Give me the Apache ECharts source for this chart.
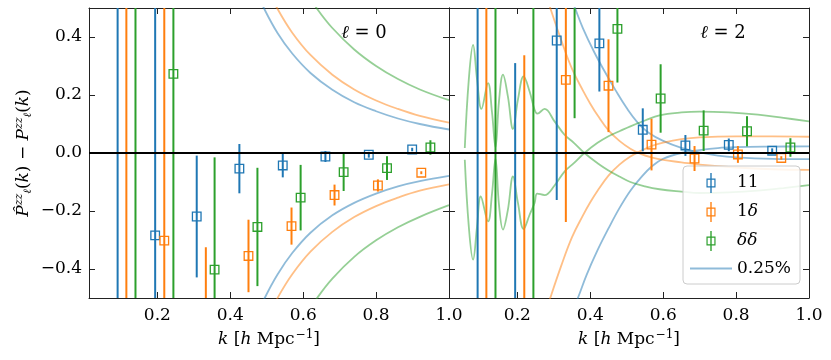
<!DOCTYPE html>
<html>
<head>
<meta charset="utf-8">
<script src="https://cdn.jsdelivr.net/npm/echarts@6/dist/echarts.min.js"></script>
<style>
  html, body { margin: 0; padding: 0; background: #fff; }
  #main { width: 831px; height: 360px; }
</style>
</head>
<body>
<div id="main"></div>
<script>
// bin centres (the three samples are shifted a little in k)
var kBlue   = [0.091, 0.194, 0.308, 0.425, 0.544, 0.661, 0.780, 0.899];
var kOrange = [0.115, 0.219, 0.333, 0.450, 0.568, 0.686, 0.805, 0.924];
var kGreen  = [0.140, 0.244, 0.357, 0.4745, 0.593, 0.711, 0.830, 0.949];

// l = 0 residuals and errors
var l0BlueVal   = [0.60, -0.284, -0.219, -0.054, -0.043, -0.012, -0.006, 0.012];
var l0BlueErr   = [1.60, 0.85, 0.21, 0.085, 0.041, 0.019, 0.010, 0.006];
var l0OrangeVal = [-0.80, -0.302, -0.55, -0.355, -0.252, -0.145, -0.112, -0.068];
var l0OrangeErr = [1.90, 0.90, 0.225, 0.125, 0.064, 0.036, 0.021, 0.005];
var l0GreenVal  = [1.10, 0.273, -0.402, -0.255, -0.154, -0.066, -0.052, 0.019];
var l0GreenErr  = [2.50, 1.00, 0.387, 0.204, 0.113, 0.065, 0.041, 0.025];

// l = 2 residuals and errors
var l2BlueVal   = [0.90, -0.60, 0.388, 0.378, 0.080, 0.026, 0.028, 0.008];
var l2BlueErr   = [2.20, 0.91, 0.55, 0.166, 0.074, 0.036, 0.022, 0.008];
var l2OrangeVal = [-0.90, -0.55, 0.252, 0.232, 0.029, -0.019, -0.005, -0.017];
var l2OrangeErr = [2.00, 0.887, 0.49, 0.16, 0.089, 0.043, 0.029, 0.006];
var l2GreenVal  = [1.00, -0.90, 0.70, 0.428, 0.188, 0.077, 0.075, 0.019];
var l2GreenErr  = [2.40, 1.60, 0.58, 0.185, 0.118, 0.070, 0.052, 0.032];

// 0.25% envelopes, l = 0
var l0BlueUp   = [[0.47,0.563],[0.4945,0.494],[0.53,0.413],[0.57,0.343],[0.62,0.276],[0.68,0.218],[0.74,0.175],[0.80,0.144],[0.86,0.119],[0.92,0.100],[1.0,0.081]];
var l0BlueDn   = [[0.47,-0.57],[0.4945,-0.50],[0.53,-0.418],[0.57,-0.345],[0.62,-0.275],[0.68,-0.215],[0.74,-0.172],[0.80,-0.140],[0.86,-0.115],[0.92,-0.097],[1.0,-0.079]];
var l0OrangeUp = [[0.50,0.572],[0.531,0.494],[0.57,0.415],[0.62,0.338],[0.68,0.270],[0.74,0.219],[0.80,0.181],[0.86,0.152],[0.92,0.128],[1.0,0.105]];
var l0OrangeDn = [[0.50,-0.575],[0.531,-0.497],[0.57,-0.418],[0.62,-0.340],[0.68,-0.272],[0.74,-0.221],[0.80,-0.183],[0.86,-0.154],[0.92,-0.130],[1.0,-0.108]];
var l0GreenUp  = [[0.60,0.571],[0.64,0.494],[0.68,0.431],[0.74,0.357],[0.80,0.300],[0.86,0.255],[0.92,0.219],[1.0,0.182]];
var l0GreenDn  = [[0.60,-0.575],[0.64,-0.497],[0.68,-0.433],[0.74,-0.358],[0.80,-0.301],[0.86,-0.256],[0.92,-0.220],[1.0,-0.180]];

// 0.25% envelopes, l = 2
var l2BlueUp   = [[0.34,0.56],[0.359,0.497],[0.38,0.43],[0.41,0.35],[0.44,0.28],[0.47,0.215],[0.50,0.155],[0.53,0.105],[0.56,0.07],[0.60,0.042],[0.65,0.018],[0.70,0.002],[0.75,-0.009],[0.80,-0.015],[0.90,-0.020],[1.0,-0.021]];
var l2BlueDn   = [[0.345,-0.56],[0.366,-0.50],[0.39,-0.42],[0.42,-0.335],[0.45,-0.26],[0.48,-0.19],[0.51,-0.13],[0.54,-0.083],[0.57,-0.045],[0.60,-0.020],[0.65,0.0],[0.70,0.010],[0.75,0.017],[0.80,0.020],[0.90,0.022],[1.0,0.023]];
var l2OrangeUp = [[0.27,0.58],[0.291,0.497],[0.32,0.39],[0.35,0.29],[0.38,0.215],[0.40,0.17],[0.42,0.13],[0.45,0.078],[0.48,0.042],[0.51,0.015],[0.54,-0.004],[0.57,-0.016],[0.60,-0.024],[0.65,-0.032],[0.70,-0.040],[0.80,-0.050],[0.90,-0.056],[1.0,-0.058]];
var l2OrangeDn = [[0.27,-0.58],[0.291,-0.497],[0.32,-0.39],[0.35,-0.29],[0.38,-0.215],[0.40,-0.17],[0.42,-0.13],[0.45,-0.078],[0.48,-0.040],[0.51,-0.012],[0.54,0.008],[0.57,0.025],[0.60,0.036],[0.65,0.048],[0.70,0.054],[0.80,0.057],[0.90,0.057],[1.0,0.056]];
var l2GreenUp  = [[0.0558,0.017],[0.0668,0.253],[0.0785,0.373],[0.0895,0.253],[0.1015,0.152],[0.1196,0.241],[0.1305,0.140],[0.140,0.020],[0.1497,0.180],[0.1606,0.270],[0.174,0.195],[0.188,0.083],[0.2016,0.184],[0.2172,0.264],[0.2336,0.212],[0.2473,0.149],[0.2547,0.1355],[0.2747,0.152],[0.302,0.109],[0.3294,0.063],[0.355,0.035],[0.384,0.0],[0.42,-0.035],[0.45,-0.060],[0.48,-0.081],[0.51,-0.100],[0.55,-0.115],[0.59,-0.125],[0.65,-0.133],[0.70,-0.138],[0.78,-0.136],[0.86,-0.130],[0.93,-0.121],[1.0,-0.111]];
var l2GreenDn  = [[0.0558,-0.023],[0.0668,-0.253],[0.0785,-0.368],[0.0895,-0.253],[0.0995,-0.150],[0.1196,-0.236],[0.1305,-0.140],[0.140,-0.020],[0.1497,-0.180],[0.1606,-0.264],[0.174,-0.196],[0.188,-0.081],[0.2016,-0.172],[0.2172,-0.262],[0.2336,-0.213],[0.2473,-0.172],[0.2547,-0.140],[0.2747,-0.145],[0.302,-0.112],[0.3294,-0.064],[0.355,-0.035],[0.384,0.0],[0.42,0.035],[0.45,0.058],[0.48,0.075],[0.51,0.092],[0.55,0.112],[0.59,0.130],[0.65,0.140],[0.70,0.143],[0.78,0.140],[0.86,0.132],[0.93,0.121],[1.0,0.109]];

// ticks
var xTicks = [0.2, 0.4, 0.6, 0.8, 1.0];
var yTicks = [-0.4, -0.2, 0.0, 0.2, 0.4];

var FONT = 'DejaVu Serif';
var BLUE = '#1f77b4', ORANGE = '#ff7f0e', GREEN = '#2ca02c';
var BLUE_A = 'rgba(31,119,180,0.5)', ORANGE_A = 'rgba(255,127,14,0.5)', GREEN_A = 'rgba(44,160,44,0.5)';

// legend icons: hollow square with a vertical bar through it, and a plain line
var ebIcon = 'path://M0 6h10v1.3H0z M0 14.7h10V16H0z M0 6h1.3v10H0z M8.7 6H10v10H8.7z M4.25 0h1.5v22h-1.5z';
var lineIcon = 'path://M0 0h42v1.8H0z';

function fmt(v) {
  return (v < 0 ? '\u2212' : '') + Math.abs(v).toFixed(1);
}

function ebRender(params, api) {
  var k = api.value(0), v = api.value(1), e = api.value(2);
  var cs = params.coordSys;
  var c = api.coord([k, v]);
  var top = api.coord([k, v + e]);
  var bot = api.coord([k, v - e]);
  var y0 = Math.max(cs.y, top[1]);
  var y1 = Math.min(cs.y + cs.height, bot[1]);
  var color = api.visual('color');
  var kids = [];
  if (y1 > y0) {
    kids.push({type: 'line', shape: {x1: c[0], y1: y0, x2: c[0], y2: y1},
      style: {stroke: color, lineWidth: 2}});
  }
  if (c[1] > cs.y && c[1] < cs.y + cs.height) {
    kids.push({type: 'rect', shape: {x: c[0] - 4.3, y: c[1] - 4.3, width: 8.6, height: 8.6},
      style: {fill: 'none', stroke: color, lineWidth: 1.3}});
  }
  return {type: 'group', children: kids};
}

function rows(ks, vals, errs) {
  return ks.map(function (k, i) { return [k, vals[i], errs[i]]; });
}

function ebSeries(name, color, ks, vals, errs, gi) {
  return {
    name: name, type: 'custom', renderItem: ebRender,
    xAxisIndex: gi * 2, yAxisIndex: gi * 2,
    itemStyle: {color: color}, z: 4, clip: true,
    data: rows(ks, vals, errs)
  };
}

function curve(color, data, gi, extra) {
  var s = {
    name: '0.25%', type: 'line', smooth: 0.4, symbol: 'none', clip: true,
    xAxisIndex: gi * 2, yAxisIndex: gi * 2, z: 2,
    lineStyle: {color: color, width: 1.8}, itemStyle: {color: color},
    data: data
  };
  if (extra) s.markLine = {
    silent: true, symbol: 'none', label: {show: false},
    lineStyle: {color: '#000', width: 2, type: 'solid'},
    data: [{yAxis: 0}]
  };
  return s;
}

var axisLineStyle = {show: true, onZero: false, lineStyle: {color: '#222', width: 1}};
var tickStyle = {show: true, inside: true, length: 6, lineStyle: {color: '#222', width: 1}};

function xAx(gi, pos) {
  return {
    type: 'value', gridIndex: gi, position: pos, min: 0.0125, max: 1.0,
    splitLine: {show: false}, axisLine: axisLineStyle,
    axisTick: Object.assign({customValues: xTicks}, tickStyle),
    axisLabel: {show: pos === 'bottom', customValues: xTicks, formatter: fmt, margin: 9,
      fontFamily: FONT, fontSize: 17, color: '#000'},
    name: pos === 'bottom' ? '{i|k} [{i|h} Mpc{sup|\u22121}]' : '',
    nameLocation: 'middle', nameGap: 31,
    nameTextStyle: {fontFamily: FONT, fontSize: 17, color: '#000',
      rich: {
        i: {fontFamily: FONT, fontSize: 17, fontStyle: 'italic'},
        sup: {fontFamily: FONT, fontSize: 12, padding: [0, 0, 9, 1]}
      }}
  };
}

function yAx(gi, pos, withLabels) {
  var ax = {
    type: 'value', gridIndex: gi, position: pos, min: -0.5, max: 0.5,
    splitLine: {show: false}, axisLine: axisLineStyle,
    axisTick: Object.assign({customValues: yTicks}, tickStyle),
    axisLabel: {show: withLabels, customValues: yTicks, formatter: fmt, margin: 7,
      fontFamily: FONT, fontSize: 17, color: '#000'}
  };
  if (withLabels) {
    ax.name = '{i|P\u0302}{sup|zz}{sub|\u2113}{n|(}{i|k}{n|) \u2212 }{i|P}{sup|zz}{sub|\u2113}{n|(}{i|k}{n|)}';
    ax.nameLocation = 'middle';
    ax.nameRotate = 90;
    ax.nameGap = 55;
    ax.nameTextStyle = {fontFamily: FONT, fontSize: 17, color: '#000',
      rich: {
        n: {fontFamily: FONT, fontSize: 17},
        i: {fontFamily: FONT, fontSize: 17, fontStyle: 'italic'},
        sup: {fontFamily: FONT, fontSize: 11, fontStyle: 'italic', padding: [0, 0, 9, 0]},
        sub: {fontFamily: FONT, fontSize: 11, fontStyle: 'italic', padding: [8, 0, 0, 0]}
      }};
  }
  return ax;
}

var chart = echarts.init(document.getElementById('main'), null, {renderer: 'canvas'});

var option = {
  animation: false,
  backgroundColor: '#fff',
  grid: [
    {left: 89, top: 8, width: 360, height: 290},
    {left: 449, top: 8, width: 360, height: 290}
  ],
  xAxis: [xAx(0, 'bottom'), xAx(0, 'top'), xAx(1, 'bottom'), xAx(1, 'top')],
  yAxis: [yAx(0, 'left', true), yAx(0, 'right', false), yAx(1, 'left', false), yAx(1, 'right', false)],
  legend: {
    orient: 'vertical', left: 683, top: 166,
    padding: [7, 9, 7, 7],
    itemWidth: 42, itemHeight: 20, itemGap: 9,
    backgroundColor: 'rgba(255,255,255,0.85)', borderColor: '#cccccc', borderWidth: 1, borderRadius: 4,
    selectedMode: false,
    formatter: function (name) { return name.replace(/δ/g, '{i|δ}'); },
    textStyle: {fontFamily: FONT, fontSize: 17, color: '#000',
      rich: {i: {fontFamily: FONT, fontSize: 17, fontStyle: 'italic'}}},
    data: [
      {name: '11', icon: ebIcon},
      {name: '1δ', icon: ebIcon},
      {name: 'δδ', icon: ebIcon},
      {name: '0.25%', icon: lineIcon, itemStyle: {color: BLUE_A, borderWidth: 0}}
    ]
  },
  graphic: [
    {type: 'text', x: 364, y: 33, z: 10,
      style: {text: '{i|\u2113} = 0', align: 'center', verticalAlign: 'middle',
        fontFamily: FONT, fontSize: 18, fill: '#000',
        rich: {i: {fontFamily: FONT, fontSize: 18, fontStyle: 'italic'}}}},
    {type: 'text', x: 723, y: 33, z: 10,
      style: {text: '{i|\u2113} = 2', align: 'center', verticalAlign: 'middle',
        fontFamily: FONT, fontSize: 18, fill: '#000',
        rich: {i: {fontFamily: FONT, fontSize: 18, fontStyle: 'italic'}}}}
  ],
  series: [
    curve(BLUE_A, l0BlueUp, 0, true),
    curve(BLUE_A, l0BlueDn, 0),
    curve(ORANGE_A, l0OrangeUp, 0),
    curve(ORANGE_A, l0OrangeDn, 0),
    curve(GREEN_A, l0GreenUp, 0),
    curve(GREEN_A, l0GreenDn, 0),
    curve(BLUE_A, l2BlueUp, 1, true),
    curve(BLUE_A, l2BlueDn, 1),
    curve(ORANGE_A, l2OrangeUp, 1),
    curve(ORANGE_A, l2OrangeDn, 1),
    curve(GREEN_A, l2GreenUp, 1),
    curve(GREEN_A, l2GreenDn, 1),
    ebSeries('11', BLUE, kBlue, l0BlueVal, l0BlueErr, 0),
    ebSeries('1δ', ORANGE, kOrange, l0OrangeVal, l0OrangeErr, 0),
    ebSeries('δδ', GREEN, kGreen, l0GreenVal, l0GreenErr, 0),
    ebSeries('11', BLUE, kBlue, l2BlueVal, l2BlueErr, 1),
    ebSeries('1δ', ORANGE, kOrange, l2OrangeVal, l2OrangeErr, 1),
    ebSeries('δδ', GREEN, kGreen, l2GreenVal, l2GreenErr, 1)
  ]
};

chart.setOption(option);
</script>
</body>
</html>
